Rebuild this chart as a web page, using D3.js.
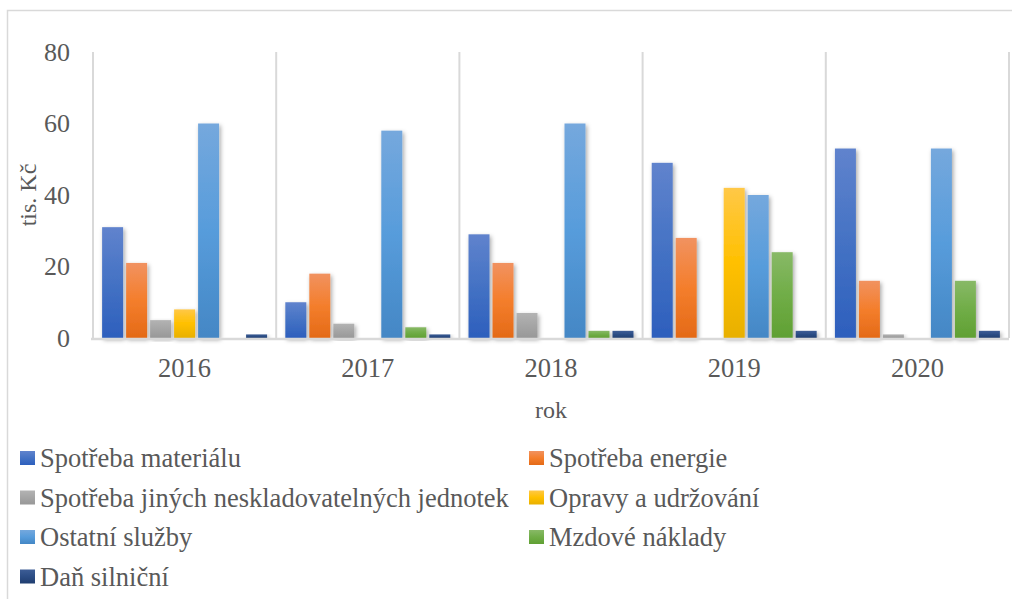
<!DOCTYPE html>
<html>
<head>
<meta charset="utf-8">
<script src="https://cdn.jsdelivr.net/npm/d3@7"></script>
<style>
  body { margin: 0; background: #fff; }
  svg text { font-family: "Liberation Serif", "Times New Roman", serif !important; fill: #595959; }
</style>
</head>
<body>
<div id="chart"></div>
<script>
// years on the x axis
var years = ["2016", "2017", "2018", "2019", "2020"];

// series names (legend order = bar order)
var seriesNames = [
    "Spotřeba materiálu",
    "Spotřeba energie",
    "Spotřeba jiných neskladovatelných jednotek",
    "Opravy a udržování",
    "Ostatní služby",
    "Mzdové náklady",
    "Daň silniční"
];

// values in tis. Kč, one array per series, in year order
var material = [31, 10, 29, 49, 53];
var energie = [21, 18, 21, 28, 16];
var jine = [5, 4, 7, 0, 1];
var opravy = [8, 0, 0, 42, 0];
var sluzby = [60, 58, 60, 40, 53];
var mzdy = [0, 3, 2, 24, 16];
var dan = [1, 1, 2, 2, 2];

var seriesValues = [material, energie, jine, opravy, sluzby, mzdy, dan];

var yTicks = [0, 20, 40, 60, 80];

// gradient stops for each series: top, middle, bottom
var seriesColors = [
    ["#6083cd", "#4472c4", "#2d5fbd"],
    ["#f19260", "#f47e2c", "#e46a17"],
    ["#b3b3b3", "#a5a5a5", "#989898"],
    ["#ffc847", "#ffc000", "#e8b000"],
    ["#75a8dd", "#579cdb", "#4487c5"],
    ["#88b967", "#70ad47", "#60a033"],
    ["#3d5d96", "#2c4d85", "#203e70"]
];

var width = 1012;
var height = 599;

var plot = { left: 93, right: 1009, top: 52, bottom: 338 };
var serif = "'Liberation Serif', 'Times New Roman', serif";

var svg = d3.select("#chart").append("svg")
    .attr("width", width)
    .attr("height", height);

var defs = svg.append("defs");

seriesColors.forEach(function(c, i) {
    var g = defs.append("linearGradient")
        .attr("id", "grad" + i)
        .attr("x1", 0).attr("y1", 0)
        .attr("x2", 0).attr("y2", 1);
    g.append("stop").attr("offset", "0%").attr("stop-color", c[0]);
    g.append("stop").attr("offset", "50%").attr("stop-color", c[1]);
    g.append("stop").attr("offset", "100%").attr("stop-color", c[2]);
});

// soft shadow like the office chart style
var shadow = defs.append("filter")
    .attr("id", "shadow")
    .attr("x", "-30%").attr("y", "-10%")
    .attr("width", "160%").attr("height", "130%");
shadow.append("feDropShadow")
    .attr("dx", 1.5).attr("dy", 2)
    .attr("stdDeviation", 2)
    .attr("flood-color", "#000")
    .attr("flood-opacity", 0.35);

// chart frame (cut off at the right and bottom in the original)
svg.append("rect")
    .attr("x", 7.5).attr("y", 10.5)
    .attr("width", 1100).attr("height", 700)
    .attr("fill", "none")
    .attr("stroke", "#d9d9d9")
    .attr("stroke-width", 1.5);

var x0 = d3.scaleBand()
    .domain(years)
    .range([plot.left, plot.right])
    .padding(0);

var x1 = d3.scaleBand()
    .domain(d3.range(seriesNames.length))
    .range([0, x0.bandwidth()])
    .paddingInner(0.125)
    .paddingOuter(0.38);

var y = d3.scaleLinear()
    .domain([0, 80])
    .range([plot.bottom, plot.top]);

// vertical gridlines between the categories
var gridX = years.map(function(d) { return x0(d); }).concat([plot.right]);
svg.append("g")
    .selectAll("line")
    .data(gridX)
    .enter().append("line")
    .attr("x1", function(d) { return d; })
    .attr("x2", function(d) { return d; })
    .attr("y1", plot.top)
    .attr("y2", plot.bottom)
    .attr("stroke", "#d9d9d9")
    .attr("stroke-width", 2);

// bars
var groups = svg.append("g")
    .selectAll("g")
    .data(years)
    .enter().append("g")
    .attr("transform", function(d) { return "translate(" + x0(d) + ",0)"; });

groups.selectAll("rect")
    .data(function(d, yi) {
        return seriesValues.map(function(vals, si) {
            return { s: si, v: vals[yi] };
        }).filter(function(o) { return o.v > 0; });
    })
    .enter().append("rect")
    .attr("x", function(d) { return x1(d.s); })
    .attr("width", x1.bandwidth())
    .attr("y", function(d) { return y(d.v); })
    .attr("height", function(d) { return y(0) - y(d.v); })
    .attr("fill", function(d) { return "url(#grad" + d.s + ")"; })
    .attr("filter", "url(#shadow)");

// x axis line
svg.append("line")
    .attr("x1", plot.left - 2)
    .attr("x2", plot.right)
    .attr("y1", y(0) + 1)
    .attr("y2", y(0) + 1)
    .attr("stroke", "#d9d9d9")
    .attr("stroke-width", 2.5);

// y axis labels
var yAxis = d3.axisLeft(y)
    .tickValues(yTicks)
    .tickSize(0)
    .tickPadding(0);

var yG = svg.append("g")
    .attr("transform", "translate(70,0)")
    .call(yAxis)
    .attr("font-family", serif);
yG.select(".domain").remove();
yG.selectAll("text")
    .style("font-size", "26px")
    .attr("fill", "#595959");

// x axis labels
var xAxis = d3.axisBottom(x0)
    .tickSize(0)
    .tickPadding(0);

var xG = svg.append("g")
    .attr("transform", "translate(0," + 358 + ")")
    .call(xAxis)
    .attr("font-family", serif);
xG.select(".domain").remove();
xG.selectAll("text")
    .style("font-size", "26.5px")
    .attr("fill", "#595959")
    .attr("dy", "0.71em");

// axis titles
svg.append("text")
    .attr("transform", "translate(36,195) rotate(-90)")
    .attr("text-anchor", "middle")
    .style("font-size", "24px")
    .text("tis. Kč");

svg.append("text")
    .attr("x", (plot.left + plot.right) / 2)
    .attr("y", 418)
    .attr("text-anchor", "middle")
    .style("font-size", "24px")
    .text("rok");

// legend, two columns
var legendCols = [20, 529];
var legendTop = 458;
var legendRow = 39.5;

var legend = svg.append("g")
    .selectAll("g")
    .data(seriesNames)
    .enter().append("g")
    .attr("transform", function(d, i) {
        return "translate(" + legendCols[i % 2] + "," + (legendTop + Math.floor(i / 2) * legendRow) + ")";
    });

legend.append("rect")
    .attr("x", 0)
    .attr("y", -7)
    .attr("width", 15)
    .attr("height", 14)
    .attr("fill", function(d, i) { return "url(#grad" + i + ")"; });

legend.append("text")
    .attr("x", 20)
    .attr("y", 0)
    .attr("dy", "0.35em")
    .style("font-size", "26.5px")
    .text(function(d) { return d; });
</script>
</body>
</html>
